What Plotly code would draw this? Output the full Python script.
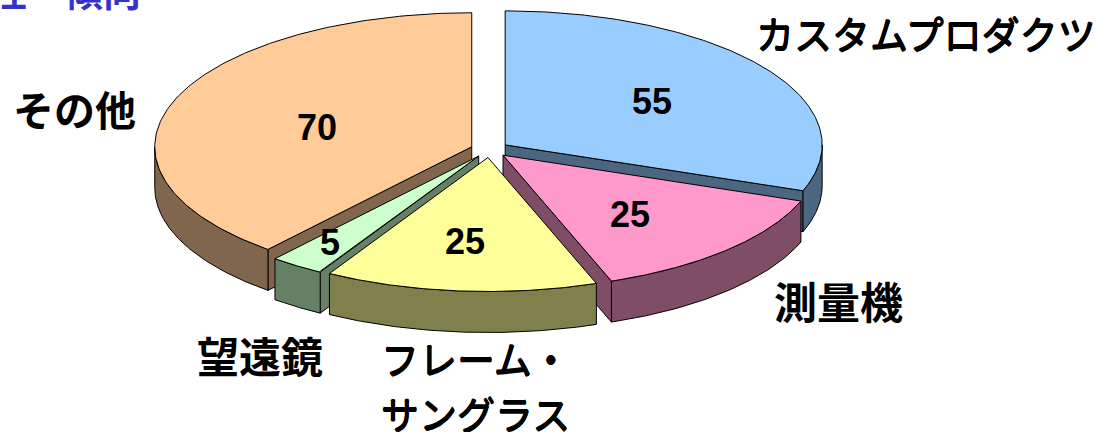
import numpy as np
import plotly.graph_objects as go

categories = ["カスタムプロダクツ", "測量機", "フレーム・<br>サングラス", "望遠鏡", "その他"]
values = [55, 25, 25, 5, 70]
top_colors = ["#99CCFF", "#FF99CC", "#FFFF99", "#CCFFCC", "#FFCC99"]
side_colors = ["#4D6680", "#804D66", "#80804D", "#668066", "#80664D"]
draw_order = [0, 4, 1, 3, 2]
title_text = "特性・傾向"

# projected pie geometry, in page pixels
CX, CY, RX, RY, DEPTH, EXPLODE = 489.6, 149.5, 317.0, 134.0, 41.0, 19.0
FONT_JP = "Noto Sans CJK JP"
FONT_NUM = "Liberation Sans"
THICK = "0.6px 0 0 #000, -0.6px 0 0 #000, 0 0.6px 0 #000, 0 -0.6px 0 #000"


def project(theta_deg, radius, ox, oy, drop=0.0):
    t = np.radians(theta_deg)
    return ox + RX * radius * np.sin(t), oy - RY * radius * np.cos(t) + drop


total = sum(values)
edges = np.concatenate([[0], np.cumsum(values)]) / total * 360
fig = go.Figure()


def poly(xs, ys, color):
    xs, ys = list(xs), list(ys)
    fig.add_trace(go.Scatter(
        x=xs + xs[:1], y=ys + ys[:1], mode="lines", fill="toself", fillcolor=color,
        line=dict(color="#000000", width=1), hoverinfo="skip", showlegend=False))


for i in draw_order:
    a0, a1 = edges[i], edges[i + 1]
    mid = (a0 + a1) / 2
    ox, oy = project(mid, EXPLODE / RX, CX, CY)
    side = side_colors[i]
    for ang, visible in ((a0, 180 < a0 < 360), (a1, 0 < a1 < 180)):
        if visible:
            ex, ey = project(ang, 1, ox, oy)
            poly([ox, ex, ex, ox], [oy, ey, ey + DEPTH, oy + DEPTH], side)
    lo, hi = max(a0, 90), min(a1, 270)
    if lo < hi:
        th = np.linspace(lo, hi, 80)
        x1, y1 = project(th, 1, ox, oy)
        x2, y2 = project(th[::-1], 1, ox, oy, DEPTH)
        poly(np.r_[x1, x2], np.r_[y1, y2], side)
    th = np.linspace(a0, a1, 160)
    x1, y1 = project(th, 1, ox, oy)
    poly(np.r_[ox, x1], np.r_[oy, y1], top_colors[i])

# value labels: (frac radius, x nudge, y nudge) per slice
nudges = [(0.566, 0, 0), (0.575, -2, -5), (0.57, -7, -8), (0.817, 0, 3), (0.57, 15, -7)]
annotations = []
for i, v in enumerate(values):
    mid = (edges[i] + edges[i + 1]) / 2
    ox, oy = project(mid, EXPLODE / RX, CX, CY)
    f, nx, ny = nudges[i]
    x, y = project(mid, f, ox, oy)
    annotations.append(dict(x=x, y=y, xref="x", yref="y", text=str(v), showarrow=False,
                            xshift=nx, yshift=ny,
                            font=dict(family=FONT_NUM, size=36, color="#000000", weight="bold")))

# category labels: left edge x, centre y of each line, font size, bold kanji
label_pos = [(754, [32]), (772, [300]), (379, [357, 412]), (195, [354]), (11, [108])]
label_sizes = [38, 43, 38, 42, 41]
label_bold = [False, True, False, True, True]
for name, (lx, lys), sz, bold in zip(categories, label_pos, label_sizes, label_bold):
    for line, ly in zip(name.split("<br>"), lys):
        font = dict(family=FONT_JP, size=sz, color="#000000")
        if bold:
            font["weight"] = "bold"
        else:
            font["shadow"] = THICK
        annotations.append(dict(x=lx, y=ly, xref="x", yref="y", text=line, showarrow=False,
                                xanchor="left", font=font))

annotations.append(dict(x=143, y=19, xref="x", yref="y", text=title_text, showarrow=False,
                        xanchor="right", yanchor="bottom",
                        font=dict(family=FONT_JP, size=38, color="#3333CC", weight="bold")))

layout = dict(
    width=1096, height=432, margin=dict(l=0, r=0, t=0, b=0),
    paper_bgcolor="#FFFFFF", plot_bgcolor="#FFFFFF", showlegend=False,
    xaxis=dict(range=[0, 1096], visible=False, fixedrange=True),
    yaxis=dict(range=[432, 0], visible=False, fixedrange=True),
    annotations=annotations,
)
fig.update_layout(**layout)
fig.write_html("out.html", config={"displayModeBar": False},
               post_script="document.body.style.margin='0';document.documentElement.style.overflow='hidden';")
